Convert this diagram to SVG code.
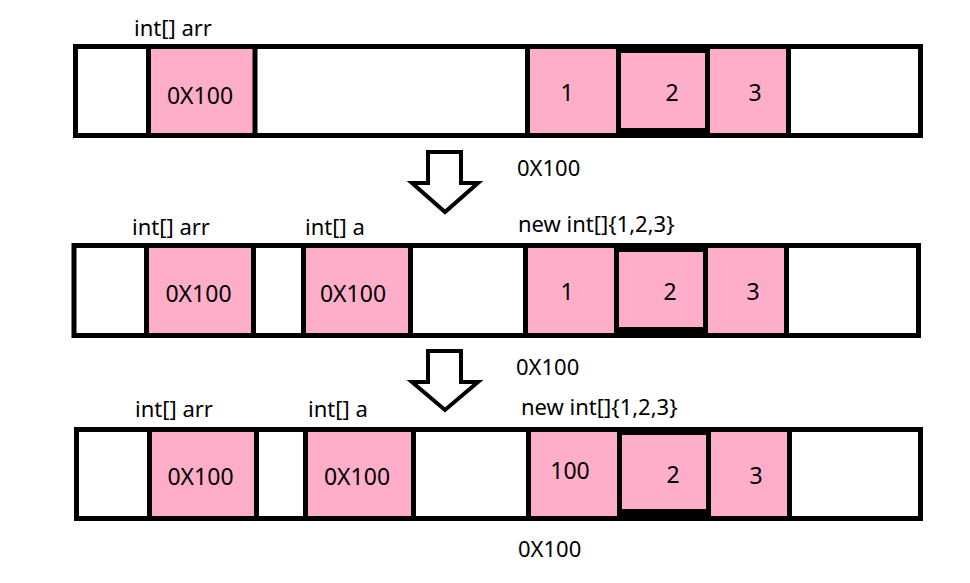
<svg xmlns="http://www.w3.org/2000/svg" width="970" height="583" viewBox="0 0 970 583">
<style>
.outer{fill:#fff;stroke:#000;stroke-width:5}
.pk{fill:#FFAEC9}
.blk{fill:#000}
.dv{stroke:#000;stroke-width:5}
.t{font-family:"Noto Sans","Liberation Sans",sans-serif;fill:#000}
.lab{font-size:22px}
.val{font-size:23px;text-anchor:middle}
.arrow{fill:#fff;stroke:#000;stroke-width:4;stroke-linejoin:miter}
</style>
<rect width="970" height="583" fill="#fff"/>

<g id="row1">
  <rect class="outer" x="75.5" y="46.5" width="845" height="89"/>
  <rect class="pk" x="151" y="49" width="102" height="84"/>
  <rect class="pk" x="530" y="49" width="86" height="84"/>
  <rect class="blk" x="616" y="44" width="94" height="94"/>
  <rect class="pk" x="621" y="53" width="84" height="75"/>
  <rect class="pk" x="710" y="49" width="76" height="84"/>
  <line class="dv" x1="148.5" y1="44" x2="148.5" y2="138"/>
  <line class="dv" x1="255" y1="44" x2="255" y2="138"/>
  <line class="dv" x1="527.5" y1="44" x2="527.5" y2="138"/>
  <line class="dv" x1="788.5" y1="44" x2="788.5" y2="138"/>
  <text class="t lab" x="134" y="36">int[] arr</text>
  <text class="t val" x="200" y="104">0X100</text>
  <text class="t val" x="567" y="101">1</text>
  <text class="t val" x="672" y="101">2</text>
  <text class="t val" x="755" y="101">3</text>
  <text class="t lab" x="517" y="176">0X100</text>
</g>

<g id="row2">
  <rect class="outer" x="74" y="245.5" width="844.5" height="90"/>
  <rect class="pk" x="149" y="248" width="102" height="85"/>
  <rect class="pk" x="306" y="248" width="102" height="85"/>
  <rect class="pk" x="528" y="248" width="86" height="85"/>
  <rect class="blk" x="614" y="243" width="94" height="95"/>
  <rect class="pk" x="619" y="252" width="84" height="75"/>
  <rect class="pk" x="708" y="248" width="76" height="85"/>
  <line class="dv" x1="146.5" y1="243" x2="146.5" y2="338"/>
  <line class="dv" x1="253.5" y1="243" x2="253.5" y2="338"/>
  <line class="dv" x1="303.5" y1="243" x2="303.5" y2="338"/>
  <line class="dv" x1="410.5" y1="243" x2="410.5" y2="338"/>
  <line class="dv" x1="525.5" y1="243" x2="525.5" y2="338"/>
  <line class="dv" x1="786.5" y1="243" x2="786.5" y2="338"/>
  <text class="t lab" x="132" y="235">int[] arr</text>
  <text class="t lab" x="305" y="235">int[] a</text>
  <text class="t lab" x="518" y="232">new int[]{1,2,3}</text>
  <text class="t val" x="198.5" y="302">0X100</text>
  <text class="t val" x="353" y="302">0X100</text>
  <text class="t val" x="567" y="300">1</text>
  <text class="t val" x="670" y="300">2</text>
  <text class="t val" x="753" y="300">3</text>
  <text class="t lab" x="516" y="375">0X100</text>
</g>

<g id="row3">
  <rect class="outer" x="76.5" y="429.5" width="844" height="89"/>
  <rect class="pk" x="152" y="432" width="102" height="84"/>
  <rect class="pk" x="308" y="432" width="103" height="84"/>
  <rect class="pk" x="531" y="432" width="86" height="84"/>
  <rect class="blk" x="617" y="427" width="94" height="94"/>
  <rect class="pk" x="622" y="435" width="84" height="74"/>
  <rect class="pk" x="711" y="432" width="76" height="84"/>
  <line class="dv" x1="149.5" y1="427" x2="149.5" y2="521"/>
  <line class="dv" x1="256.5" y1="427" x2="256.5" y2="521"/>
  <line class="dv" x1="305.5" y1="427" x2="305.5" y2="521"/>
  <line class="dv" x1="413.5" y1="427" x2="413.5" y2="521"/>
  <line class="dv" x1="528.5" y1="427" x2="528.5" y2="521"/>
  <line class="dv" x1="789.5" y1="427" x2="789.5" y2="521"/>
  <text class="t lab" x="135" y="417">int[] arr</text>
  <text class="t lab" x="308" y="417">int[] a</text>
  <text class="t lab" x="521" y="415">new int[]{1,2,3}</text>
  <text class="t val" x="200.5" y="485">0X100</text>
  <text class="t val" x="357" y="485">0X100</text>
  <text class="t val" x="570" y="479">100</text>
  <text class="t val" x="673" y="483">2</text>
  <text class="t val" x="756" y="484">3</text>
  <text class="t lab" x="518" y="557">0X100</text>
</g>

<g id="connectors">
  <polygon class="arrow" points="428,152 461,152 461,183 478,183 445,212 412,183 428,183"/>
  <polygon class="arrow" points="428,351 461,351 461,382 478,382 445,410 412,382 428,382"/>
</g>
</svg>
